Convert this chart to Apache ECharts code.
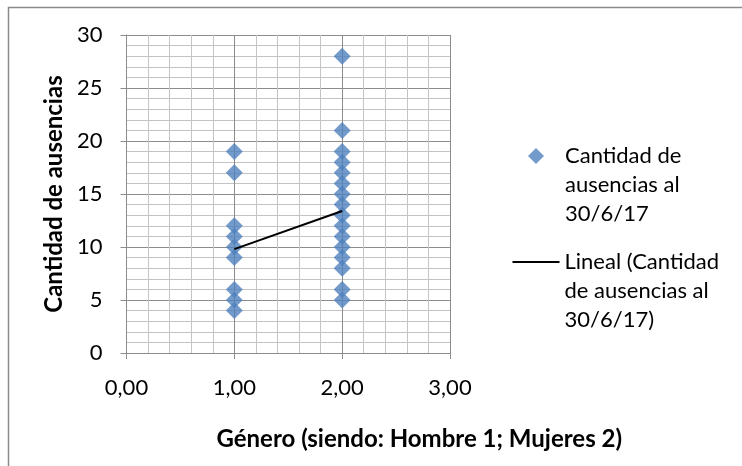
<!DOCTYPE html>
<html>
<head>
<meta charset="utf-8">
<script src="https://cdn.jsdelivr.net/npm/echarts@6/dist/echarts.min.js"></script>
<style>
html,body{margin:0;padding:0;background:#fff;}
#chart{width:742px;height:466px;}
</style>
</head>
<body>
<div id="chart"></div>
<script>
// Data
const generoCodigos = [1, 2];
const ausenciasHombres = [19, 17, 12, 11, 10, 9, 6, 5, 4];
const ausenciasMujeres = [28, 21, 19, 18, 17, 16, 15, 14, 13, 12, 11, 10, 9, 8, 6, 5];
const tendenciaLineal = [9.8, 13.4];
const xTicks = [0, 1, 2, 3];
const yTicks = [0, 5, 10, 15, 20, 25, 30];

const serieNombre = 'Cantidad de ausencias al 30/6/17';
const tendenciaNombre = 'Lineal (Cantidad de ausencias al 30/6/17)';
const legendLabels = {};
legendLabels[serieNombre] = '\n\nCantidad de\nausencias al\n30/6/17';
legendLabels[tendenciaNombre] = '\n\nLineal (Cantidad\nde ausencias al\n30/6/17)';

const puntos = [];
ausenciasHombres.forEach(v => puntos.push([generoCodigos[0], v]));
ausenciasMujeres.forEach(v => puntos.push([generoCodigos[1], v]));
const lineaTendencia = generoCodigos.map((g, i) => [g, tendenciaLineal[i]]);

const FONT = 'Lato';
const gridMajor = '#8c8c8c';
const gridMinor = '#c4c4c4';

const chart = echarts.init(document.getElementById('chart'), null, {renderer: 'canvas'});
const legendText = {fontFamily: FONT, fontSize: 22, color: '#000', lineHeight: 29};
chart.setOption({
  animation: false,
  backgroundColor: '#fff',
  graphic: [{
    type: 'rect',
    shape: {x: 8.5, y: 7.5, width: 800, height: 500},
    style: {fill: 'none', stroke: '#8a8a8a', lineWidth: 1.5},
    silent: true
  }],
  grid: {left: 126.5, top: 35, right: 292, bottom: 113, containLabel: false},
  legend: [
    {
      orient: 'vertical', left: 528, top: 83.5, padding: 0,
      itemWidth: 16, itemHeight: 16, selectedMode: false,
      icon: 'diamond',
      textStyle: Object.assign({}, legendText, {padding: [0, 0, 0, 16]}),
      formatter: name => legendLabels[name],
      data: [serieNombre]
    },
    {
      orient: 'vertical', left: 512.5, top: 189.5, padding: 0,
      itemWidth: 47, itemHeight: 2, selectedMode: false,
      icon: 'rect',
      textStyle: legendText,
      formatter: name => legendLabels[name],
      data: [tendenciaNombre]
    }
  ],
  xAxis: {
    type: 'value',
    min: xTicks[0], max: xTicks[xTicks.length - 1], interval: 1,
    name: 'Género (siendo: Hombre 1; Mujeres 2)',
    nameLocation: 'middle',
    nameGap: 74,
    nameTextStyle: {fontFamily: FONT, fontSize: 24, fontWeight: 'bold', color: '#000', padding: [0, 0, 0, 262]},
    axisLine: {show: true, lineStyle: {color: gridMajor, width: 1}},
    axisTick: {show: true, length: 6, lineStyle: {color: gridMajor}},
    minorTick: {show: false, splitNumber: 5},
    axisLabel: {fontFamily: FONT, fontSize: 22, color: '#000', margin: 24,
      formatter: v => v.toFixed(2).replace('.', ',')},
    splitLine: {show: true, lineStyle: {color: gridMajor, width: 1}},
    minorSplitLine: {show: true, lineStyle: {color: gridMinor, width: 1}}
  },
  yAxis: {
    type: 'value',
    min: yTicks[0], max: yTicks[yTicks.length - 1], interval: 5,
    name: 'Cantidad de ausencias',
    nameLocation: 'middle',
    nameGap: 60,
    nameRotate: 90,
    nameTextStyle: {fontFamily: FONT, fontSize: 24, fontWeight: 'bold', color: '#000'},
    axisLine: {show: true, lineStyle: {color: gridMajor, width: 1}},
    axisTick: {show: true, length: 6, lineStyle: {color: gridMajor}},
    minorTick: {show: false, splitNumber: 5},
    axisLabel: {fontFamily: FONT, fontSize: 22, color: '#000', margin: 24},
    splitLine: {show: true, lineStyle: {color: gridMajor, width: 1}},
    minorSplitLine: {show: true, lineStyle: {color: gridMinor, width: 1}}
  },
  series: [
    {
      name: serieNombre,
      type: 'scatter',
      symbol: 'diamond',
      symbolSize: 17,
      itemStyle: {color: '#4F81BD'},
      data: puntos,
      z: 3
    },
    {
      name: tendenciaNombre,
      type: 'line',
      showSymbol: false,
      symbol: 'none',
      lineStyle: {color: '#000', width: 2},
      itemStyle: {color: '#000'},
      data: lineaTendencia,
      z: 4
    }
  ]
});
</script>
</body>
</html>
